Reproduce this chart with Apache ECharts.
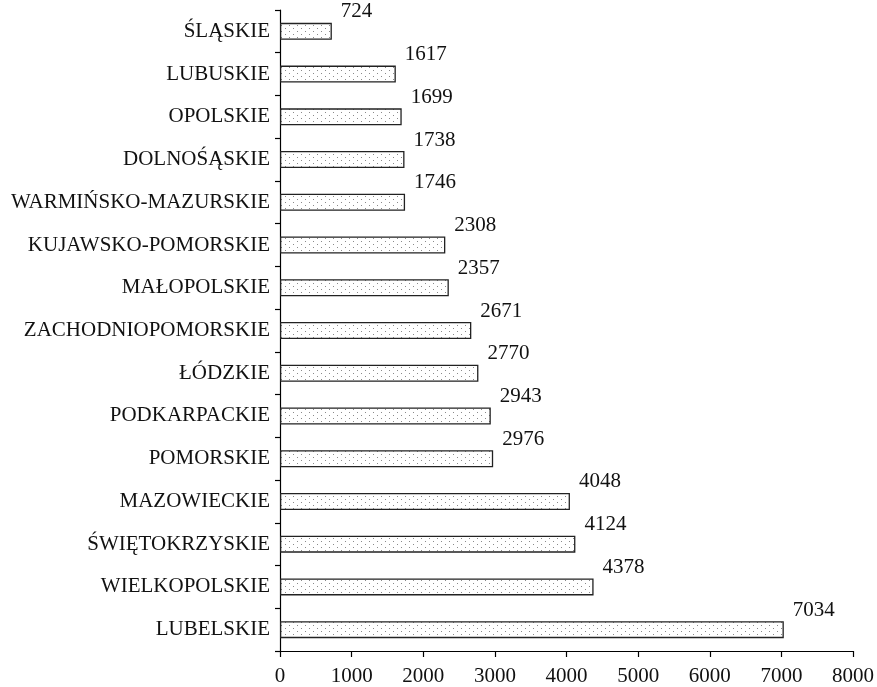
<!DOCTYPE html>
<html>
<head>
<meta charset="utf-8">
<script src="https://cdn.jsdelivr.net/npm/echarts@6/dist/echarts.min.js"></script>
<style>
  html, body { margin: 0; padding: 0; background: #fff; }
  #chart { width: 877px; height: 687px; }
</style>
</head>
<body>
<div id="chart"></div>
<script>
  // województwa, od góry do dołu
  var regions = ['ŚLĄSKIE', 'LUBUSKIE', 'OPOLSKIE', 'DOLNOŚĄSKIE', 'WARMIŃSKO-MAZURSKIE',
    'KUJAWSKO-POMORSKIE', 'MAŁOPOLSKIE', 'ZACHODNIOPOMORSKIE', 'ŁÓDZKIE', 'PODKARPACKIE',
    'POMORSKIE', 'MAZOWIECKIE', 'ŚWIĘTOKRZYSKIE', 'WIELKOPOLSKIE', 'LUBELSKIE'];
  var values = [724, 1617, 1699, 1738, 1746, 2308, 2357, 2671, 2770, 2943, 2976, 4048, 4124, 4378, 7034];
  var xTicks = [0, 1000, 2000, 3000, 4000, 5000, 6000, 7000, 8000];

  // kropkowany wzór wypełnienia słupków
  var pat = document.createElement('canvas');
  pat.width = 8; pat.height = 6;
  var ctx = pat.getContext('2d');
  ctx.fillStyle = '#fff';
  ctx.fillRect(0, 0, 8, 6);
  ctx.fillStyle = '#8a8a8a';
  ctx.fillRect(1, 1, 1, 1);
  ctx.fillRect(5, 4, 1, 1);

  var font = 'Liberation Serif';
  var myChart = echarts.init(document.getElementById('chart'));
  var option = {
    animation: false,
    grid: { left: 280, right: 18, top: 10, bottom: 35, containLabel: false },
    xAxis: {
      type: 'value',
      min: xTicks[0],
      max: xTicks[xTicks.length - 1],
      interval: 1000,
      splitLine: { show: false },
      axisLine: { show: true, lineStyle: { color: '#000', width: 1.2 } },
      axisTick: { show: true, length: 6, lineStyle: { color: '#000', width: 1.2 } },
      axisLabel: { color: '#111', fontFamily: font, fontSize: 21, margin: 15,
        formatter: function (v) { return String(v); } }
    },
    yAxis: {
      type: 'category',
      data: regions,
      inverse: true,
      axisLine: { show: true, lineStyle: { color: '#000', width: 1.2 } },
      axisTick: { show: true, length: 5, lineStyle: { color: '#000', width: 1.2 } },
      axisLabel: { color: '#111', fontFamily: font, fontSize: 21, margin: 10 }
    },
    series: [{
      type: 'bar',
      data: values,
      barWidth: 17,
      itemStyle: {
        color: { image: pat, repetition: 'repeat' },
        borderColor: '#222',
        borderWidth: 1.3
      },
      label: {
        show: true,
        position: ['100%', '0%'],
        offset: [9, -11],
        align: 'left',
        verticalAlign: 'middle',
        color: '#111',
        fontFamily: font,
        fontSize: 21
      }
    }]
  };
  myChart.setOption(option);
</script>
</body>
</html>
